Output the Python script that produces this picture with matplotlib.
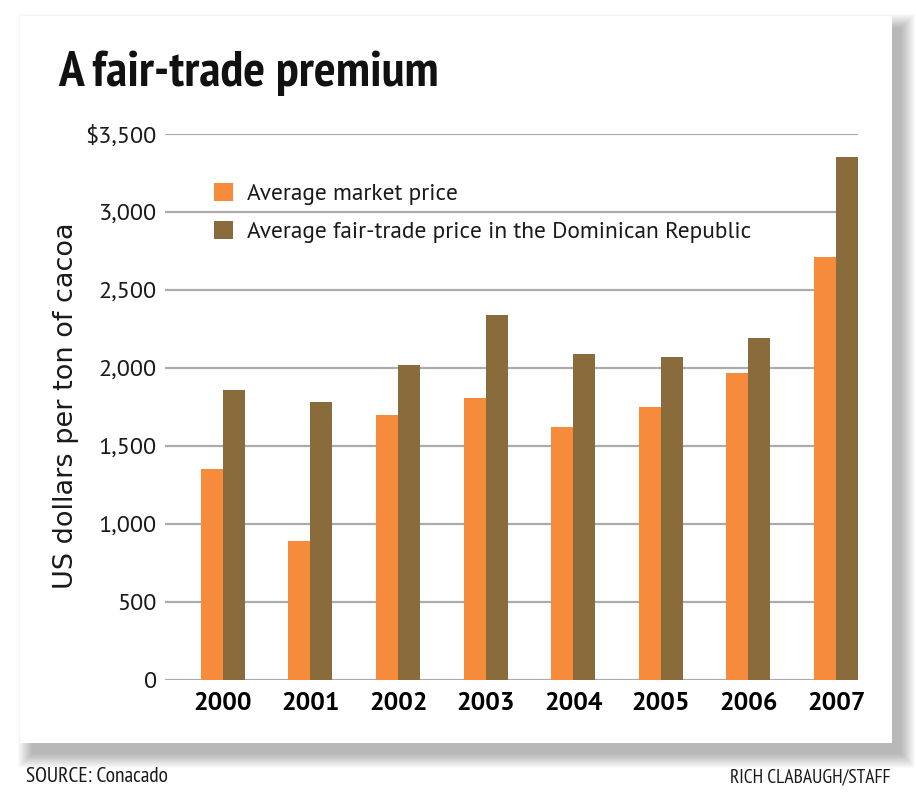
import matplotlib
matplotlib.use("Agg")
import matplotlib.pyplot as plt
from matplotlib.patches import Rectangle, Patch
from matplotlib.ticker import FuncFormatter
import numpy as np

# ---- data ----
years = ["2000", "2001", "2002", "2003", "2004", "2005", "2006", "2007"]
market_price = [1350, 890, 1700, 1810, 1620, 1750, 1970, 2710]
fair_trade_price = [1860, 1780, 2020, 2340, 2090, 2070, 2190, 3350]
series_labels = ["Average market price",
                 "Average fair-trade price in the Dominican Republic"]
y_ticks = [0, 500, 1000, 1500, 2000, 2500, 3000, 3500]

ORANGE = "#F58B3B"
BROWN = "#8A6C3C"
GRID = "#ABABAB"
TXT = "#1a1a1a"
REG = ["PT Sans", "DejaVu Sans"]
NARROW = ["PT Sans Narrow", "DejaVu Sans"]

W, H = 916, 800
fig = plt.figure(figsize=(W / 100, H / 100), dpi=100)
fig.patch.set_facecolor("white")

def fx(px):
    return px / W

def fy(py):
    return 1 - py / H

# ---- panel with soft drop shadow ----
pl, pr, pt, pb = 20, 892, 16, 743
sl, sr, st, sb = pl + 13, pr + 8, pt + 13, pb + 10   # shadow core
N = 15
for k in range(N):
    e = N - k
    fig.patches.append(Rectangle((fx(sl - e), fy(sb + e)),
                                 fx(sr - sl + 2 * e), (sb - st + 2 * e) / H,
                                 transform=fig.transFigure,
                                 facecolor="black", alpha=0.021,
                                 edgecolor="none", zorder=0))
fig.patches.append(Rectangle((fx(pl), fy(pb)), fx(pr - pl), (pb - pt) / H,
                             transform=fig.transFigure, facecolor="white",
                             edgecolor="none", zorder=1))

# ---- axes ----
ax_l, ax_r, ax_t, ax_b = 165, 858, 134, 680
ax = fig.add_axes([fx(ax_l), fy(ax_b), fx(ax_r - ax_l), (ax_b - ax_t) / H])
ax.set_zorder(2)
ax.patch.set_alpha(0)

x = np.arange(len(years))
bw = 0.251
ax.bar(x - bw / 2, market_price, width=bw, color=ORANGE, zorder=3,
       label=series_labels[0])
ax.bar(x + bw / 2, fair_trade_price, width=bw, color=BROWN, zorder=3,
       label=series_labels[1])

ax.set_xlim(-0.66, len(years) - 1 + 0.25)
ax.set_ylim(0, 3500)
ax.set_yticks(y_ticks)
ax.yaxis.set_major_formatter(FuncFormatter(
    lambda v, p: ("$" if v == y_ticks[-1] else "") + f"{int(v):,}"))
ax.yaxis.grid(True, color=GRID, linewidth=1.6, zorder=0)
ax.set_axisbelow(True)
for s in ax.spines.values():
    s.set_visible(False)
ax.tick_params(axis="y", length=0, pad=6, labelsize=17.5, labelcolor=TXT)
for t in ax.get_yticklabels():
    t.set_family(REG)
ax.set_xticks(x)
ax.set_xticklabels(years, fontweight="bold", family=REG)
ax.tick_params(axis="x", length=0, pad=9, labelsize=18.5, labelcolor="black")

# ---- legend ----
handles = [Patch(facecolor=ORANGE), Patch(facecolor=BROWN)]
leg = ax.legend(handles, series_labels, loc="upper left",
                bbox_to_anchor=(fx(214), fy(183)),
                bbox_transform=fig.transFigure, frameon=False,
                prop={"family": REG, "size": 16.8},
                handlelength=0.83, handleheight=0.79,
                handletextpad=0.6, labelspacing=0.7, borderpad=0,
                borderaxespad=0)
for t in leg.get_texts():
    t.set_color(TXT)

# ---- texts ----
fig.text(fx(58), fy(86), "A fair-trade premium",
         family=NARROW, fontweight="bold", fontsize=37,
         va="baseline", ha="left", color="#111111", zorder=5)
fig.text(fx(66), fy(406), "US dollars per ton of cacoa", rotation=90,
         ha="center", va="center", fontsize=19.5, family="DejaVu Sans",
         color=TXT, zorder=5)
fig.text(fx(26), fy(777), "SOURCE: Conacado", family=NARROW,
         fontsize=15.5, ha="left", va="center", color=TXT)
fig.text(fx(891), fy(777), "RICH CLABAUGH/STAFF", family=NARROW,
         fontsize=14, ha="right", va="center", color=TXT)

fig.savefig("out.png", dpi=100)
